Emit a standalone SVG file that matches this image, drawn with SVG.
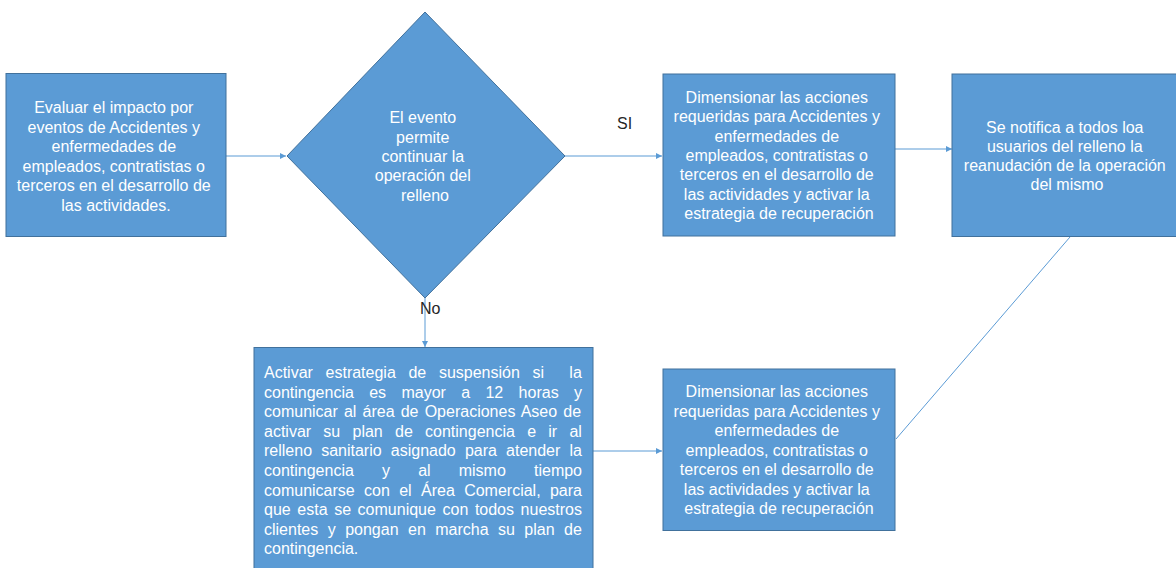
<svg xmlns="http://www.w3.org/2000/svg" width="1176" height="568" viewBox="0 0 1176 568">
<style>
.box{fill:#5B9BD5;stroke:#41719C;stroke-width:1}
.t{font-family:"Liberation Sans",Arial,sans-serif;font-size:16px;fill:#FFFFFF;text-anchor:middle}
.j{font-family:"Liberation Sans",Arial,sans-serif;font-size:16px;fill:#FFFFFF;white-space:pre}
.lbl{font-family:"Liberation Sans",Arial,sans-serif;font-size:16px;fill:#262626}
.c{fill:none;stroke:#5B9BD5;stroke-width:1}
</style>
<defs>
<marker id="ah" viewBox="0 0 10 10" refX="10" refY="5" markerWidth="6" markerHeight="6" markerUnits="userSpaceOnUse" orient="auto">
<path d="M0,0 L10,5 L0,10 z" fill="#5B9BD5"/>
</marker>
</defs>
<rect width="1176" height="568" fill="#FFFFFF"/>
<g id="connectors">
<line class="c" x1="226" y1="156" x2="286" y2="156" marker-end="url(#ah)"/>
<line class="c" x1="565" y1="156" x2="662" y2="156" marker-end="url(#ah)"/>
<line class="c" x1="895" y1="149" x2="952" y2="149" marker-end="url(#ah)"/>
<line class="c" x1="425" y1="298" x2="425" y2="347" marker-end="url(#ah)"/>
<line class="c" x1="593" y1="451" x2="662" y2="451" marker-end="url(#ah)"/>
<line class="c" x1="1070" y1="237" x2="896" y2="439" stroke="#9DC3E6"/>
<text class="lbl" x="617" y="129">SI</text>
<text class="lbl" x="420" y="314">No</text>
</g>
<g id="n1">
<rect class="box" x="6" y="73.5" width="220" height="163"/>
<text class="t">
<tspan x="116" y="113">Evaluar el impacto por</tspan>
<tspan x="116" y="132.5">eventos de Accidentes y</tspan>
<tspan x="116" y="152">enfermedades de</tspan>
<tspan x="116" y="171.5">empleados, contratistas o</tspan>
<tspan x="116" y="191">terceros en el desarrollo de</tspan>
<tspan x="116" y="210.5">las actividades.</tspan>
</text>
</g>
<g id="n2">
<polygon class="box" points="425,12 565,156 425,298 287,156"/>
<text class="t">
<tspan x="425" y="123">El evento</tspan>
<tspan x="425" y="142.5">permite</tspan>
<tspan x="425" y="162">continuar la</tspan>
<tspan x="425" y="181">operación del</tspan>
<tspan x="425" y="200.5">relleno</tspan>
</text>
</g>
<g id="n3">
<rect class="box" x="663" y="74" width="232" height="162"/>
<text class="t">
<tspan x="779" y="103">Dimensionar las acciones</tspan>
<tspan x="779" y="122.3">requeridas para Accidentes y</tspan>
<tspan x="779" y="141.6">enfermedades de</tspan>
<tspan x="779" y="161">empleados, contratistas o</tspan>
<tspan x="779" y="180.4">terceros en el desarrollo de</tspan>
<tspan x="779" y="199.8">las actividades y activar la</tspan>
<tspan x="779" y="219.2">estrategia de recuperación</tspan>
</text>
</g>
<g id="n4">
<rect class="box" x="952" y="74" width="240" height="162.5"/>
<text class="t">
<tspan x="1067" y="132.7">Se notifica a todos loa</tspan>
<tspan x="1067" y="151.9">usuarios del relleno la</tspan>
<tspan x="1067" y="171.1">reanudación de la operación</tspan>
<tspan x="1067" y="190.3">del mismo</tspan>
</text>
</g>
<g id="n5">
<rect class="box" x="254" y="347.5" width="339" height="230"/>
<text class="j" xml:space="preserve"><tspan x="264" y="378" word-spacing="8.2">Activar estrategia de suspensión si  la</tspan><tspan x="264" y="397.6" word-spacing="10.9">contingencia es mayor a 12 horas y</tspan><tspan x="264" y="417.2" word-spacing="1.7">comunicar al área de Operaciones Aseo de</tspan><tspan x="264" y="436.8" word-spacing="7.8">activar su plan de contingencia e ir al</tspan><tspan x="264" y="456.4" word-spacing="4.7">relleno sanitario asignado para atender la</tspan><tspan x="264" y="476" word-spacing="23.7">contingencia y al mismo tiempo</tspan><tspan x="264" y="495.6" word-spacing="4.9">comunicarse con el Área Comercial, para</tspan><tspan x="264" y="515.2" word-spacing="2.15">que esta se comunique con todos nuestros</tspan><tspan x="264" y="534.8" word-spacing="5">clientes y pongan en marcha su plan de</tspan><tspan x="264" y="554.4">contingencia.</tspan></text>
</g>
<g id="n6">
<rect class="box" x="663" y="369" width="232" height="161.5"/>
<text class="t">
<tspan x="779" y="397">Dimensionar las acciones</tspan>
<tspan x="779" y="416.5">requeridas para Accidentes y</tspan>
<tspan x="779" y="436">enfermedades de</tspan>
<tspan x="779" y="455.5">empleados, contratistas o</tspan>
<tspan x="779" y="475">terceros en el desarrollo de</tspan>
<tspan x="779" y="494.5">las actividades y activar la</tspan>
<tspan x="779" y="514">estrategia de recuperación</tspan>
</text>
</g>
</svg>
